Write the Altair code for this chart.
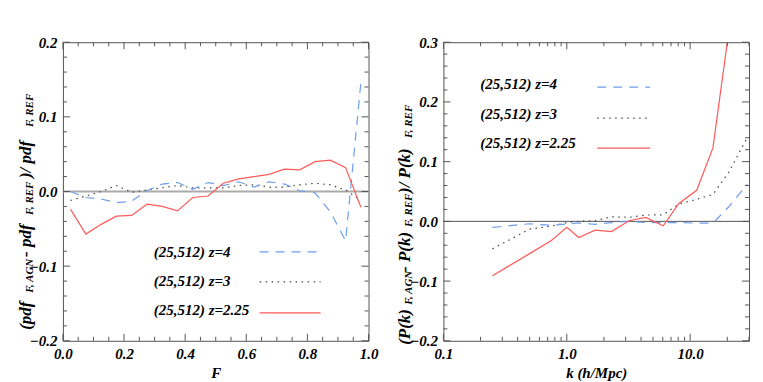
import altair as alt
import pandas as pd

# ---------------- data: left panel (flux PDF ratio) ----------------
F = [0.025, 0.075, 0.125, 0.175, 0.225, 0.275, 0.325, 0.375, 0.425, 0.475,
     0.525, 0.575, 0.625, 0.675, 0.725, 0.775, 0.825, 0.875, 0.925, 0.975]
left_z4 = [0.000, -0.008, -0.010, -0.015, -0.013, 0.001, 0.010, 0.012, 0.003, 0.012,
           0.008, 0.013, 0.006, 0.013, 0.010, 0.001, -0.002, -0.027, -0.066, 0.146]
left_z3 = [-0.012, -0.006, 0.000, 0.008, -0.001, 0.002, 0.005, 0.008, 0.005, 0.005,
           0.005, 0.008, 0.009, 0.006, 0.006, 0.009, 0.011, 0.009, 0.002, -0.012]
left_z225 = [-0.024, -0.057, -0.044, -0.033, -0.032, -0.017, -0.020, -0.026, -0.008, -0.006,
             0.011, 0.017, 0.020, 0.023, 0.030, 0.029, 0.040, 0.042, 0.032, -0.021]

# ---------------- data: right panel (flux power spectrum ratio) ----------------
k_vals = [0.25, 0.5, 0.75, 1.0, 1.25, 1.7, 2.3, 3.2, 4.35, 6.05, 8.1, 11.3, 15.3, 20.5, 29.0]
right_z4 = [-0.010, -0.004, -0.0067, -0.0044, -0.0027, -0.005, -0.002, 0.000, -0.002, -0.002,
            -0.002, -0.003, -0.003, 0.024, 0.062]
right_z3 = [-0.046, -0.013, -0.008, -0.002, 0.000, 0.001, 0.0077, 0.0067, 0.0106, 0.011,
            0.029, 0.037, 0.045, 0.082, 0.140]
k_red = [0.25, 0.5, 0.75, 1.0, 1.25, 1.7, 2.3, 3.2, 4.35, 6.05, 8.1, 11.3, 15.3, 20.5]
right_z225 = [-0.091, -0.054, -0.032, -0.010, -0.027, -0.0146, -0.017, 0.001, 0.0067, -0.0074,
              0.030, 0.052, 0.123, 0.316]

legend_labels = ["(25,512) z=4", "(25,512) z=3", "(25,512) z=2.25"]

# ticks
left_x_major = [0.0, 0.2, 0.4, 0.6, 0.8, 1.0]
left_x_minor = [0.05, 0.1, 0.15, 0.25, 0.3, 0.35, 0.45, 0.5, 0.55, 0.65, 0.7, 0.75, 0.85, 0.9, 0.95]
left_y_major = [-0.2, -0.1, 0.0, 0.1, 0.2]
left_y_minor = [-0.18, -0.16, -0.14, -0.12, -0.08, -0.06, -0.04, -0.02,
                0.02, 0.04, 0.06, 0.08, 0.12, 0.14, 0.16, 0.18]
right_x_major = [0.1, 1.0, 10.0]
right_x_minor = [0.2, 0.3, 0.4, 0.5, 0.6, 0.7, 0.8, 0.9, 2, 3, 4, 5, 6, 7, 8, 9, 20, 30]
right_y_major = [-0.2, -0.1, 0.0, 0.1, 0.2, 0.3]
right_y_minor = [-0.18, -0.16, -0.14, -0.12, -0.08, -0.06, -0.04, -0.02,
                 0.02, 0.04, 0.06, 0.08, 0.12, 0.14, 0.16, 0.18,
                 0.22, 0.24, 0.26, 0.28]

FONT = "Liberation Serif"
FRAME = "#555555"
RED = "#ff5a5a"
BLUE = "#6d9eeb"
GRAY = "#444444"
W, H = 306, 299
MAJ, MIN = 7, 4
one = pd.DataFrame({"a": [0]})


def axis_x(values, title):
    return alt.Axis(values=values, format=".1f", labelFlush=False, ticks=False,
                    domain=False, grid=False, labelFont=FONT, labelFontSize=15,
                    labelFontStyle="italic", labelFontWeight="bold", labelColor="black",
                    labelPadding=6, title=title, titleFont=FONT, titleFontSize=15,
                    titleFontStyle="italic", titleFontWeight="bold", titleColor="black",
                    titlePadding=4, labelOverlap=False)


def axis_y(values):
    return alt.Axis(values=values, format=".1f", ticks=False, domain=False, grid=False,
                    labelFont=FONT, labelFontSize=15, labelFontStyle="italic",
                    labelFontWeight="bold", labelColor="black", labelPadding=6, title="",
                    labelOverlap=False)


def txt(s, x, y, size=15, angle=0):
    return alt.Chart(one).mark_text(
        text=s, font=FONT, fontStyle="italic", fontWeight="bold", fontSize=size,
        angle=angle, align="left", baseline="middle", color="black"
    ).encode(x=alt.value(x), y=alt.value(y))


def legend_line(x1, x2, y, color, dash, width):
    kw = dict(color=color, strokeWidth=width)
    if dash:
        kw["strokeDash"] = dash
    return alt.Chart(one).mark_rule(**kw).encode(x=alt.value(x1), x2=alt.value(x2), y=alt.value(y))


def series(xs, ys, xname, xscale, yscale, color, dash, width, xaxis, yaxis):
    df = pd.DataFrame({xname: xs, "v": ys})
    kw = dict(color=color, strokeWidth=width, clip=True)
    if dash:
        kw["strokeDash"] = dash
    return alt.Chart(df).mark_line(**kw).encode(
        x=alt.X(f"{xname}:Q", scale=xscale, axis=xaxis, title=xaxis.title),
        y=alt.Y("v:Q", scale=yscale, axis=yaxis, title=""),
    )


def yticks(vals, length, yscale, yaxis):
    d = pd.DataFrame({"t": vals})
    base = alt.Chart(d).mark_rule(color=FRAME, strokeWidth=1)
    return [
        base.encode(y=alt.Y("t:Q", scale=yscale, axis=yaxis, title=""), x=alt.value(0), x2=alt.value(length)),
        base.encode(y=alt.Y("t:Q", scale=yscale, axis=yaxis, title=""), x=alt.value(W - length), x2=alt.value(W)),
    ]


def xticks(vals, length, xscale, xaxis):
    d = pd.DataFrame({"t": vals})
    base = alt.Chart(d).mark_rule(color=FRAME, strokeWidth=1)
    return [
        base.encode(x=alt.X("t:Q", scale=xscale, axis=xaxis, title=xaxis.title), y=alt.value(H), y2=alt.value(H - length)),
        base.encode(x=alt.X("t:Q", scale=xscale, axis=xaxis, title=xaxis.title), y=alt.value(0), y2=alt.value(length)),
    ]


DASH = [9, 7]
DOT = [1.5, 4.5]

# ---------------- left panel ----------------
lxs = alt.Scale(domain=[0, 1], nice=False, zero=False)
lys = alt.Scale(domain=[-0.2, 0.2], nice=False, zero=False)
lxa = axis_x(left_x_major, "F")
lya = axis_y(left_y_major)

left_layers = [
    alt.Chart(one).mark_rule(color="#aaaaaa", strokeWidth=2).encode(
        y=alt.datum(0, scale=lys, axis=lya, title="")),
    series(F, left_z3, "F", lxs, lys, GRAY, DOT, 1.2, lxa, lya),
    series(F, left_z4, "F", lxs, lys, BLUE, DASH, 1.2, lxa, lya),
    series(F, left_z225, "F", lxs, lys, RED, None, 1.2, lxa, lya),
]
left_layers += yticks(left_y_major, MAJ, lys, lya) + yticks(left_y_minor, MIN, lys, lya)
left_layers += xticks(left_x_major, MAJ, lxs, lxa) + xticks(left_x_minor, MIN, lxs, lxa)
left_layers += [
    txt(legend_labels[0], 91, 210),
    legend_line(197, 258, 210, BLUE, DASH, 1.2),
    txt(legend_labels[1], 91, 239),
    legend_line(197, 258, 240, GRAY, DOT, 1.2),
    txt(legend_labels[2], 91, 268),
    legend_line(197, 258, 271, RED, None, 1.2),
]
# rotated y title with subscripts
left_layers += [
    txt("(pdf", -37, 288, 17, 270),
    txt("F, AGN", -33, 251, 11, 270),
    txt("- pdf", -37, 215, 17, 270),
    txt("F, REF", -33, 173, 11, 270),
    txt(")/ pdf", -37, 136, 17, 270),
    txt("F, REF", -33, 85, 11, 270),
]
left = alt.layer(*left_layers).properties(width=W, height=H)

# ---------------- right panel ----------------
rxs = alt.Scale(type="log", domain=[0.1, 30], nice=False, zero=False)
rys = alt.Scale(domain=[-0.2, 0.3], nice=False, zero=False)
rxa = axis_x(right_x_major, "k (h/Mpc)")
rya = axis_y(right_y_major)

right_layers = [
    alt.Chart(one).mark_rule(color=FRAME, strokeWidth=1).encode(
        y=alt.datum(0, scale=rys, axis=rya, title="")),
    series(k_vals, right_z3, "k", rxs, rys, GRAY, DOT, 1.2, rxa, rya),
    series(k_vals, right_z4, "k", rxs, rys, BLUE, DASH, 1.2, rxa, rya),
    series(k_red, right_z225, "k", rxs, rys, RED, None, 1.2, rxa, rya),
]
right_layers += yticks(right_y_major, MAJ, rys, rya) + yticks(right_y_minor, MIN, rys, rya)
right_layers += xticks(right_x_major, MAJ, rxs, rxa) + xticks(right_x_minor, MIN, rxs, rxa)
right_layers += [
    txt(legend_labels[0], 37, 42),
    legend_line(154, 207, 45, BLUE, DASH, 1.2),
    txt(legend_labels[1], 37, 72),
    legend_line(154, 207, 76, GRAY, DOT, 1.2),
    txt(legend_labels[2], 37, 101),
    legend_line(154, 207, 106, RED, None, 1.2),
]
right_layers += [
    txt("(P(k)", -38, 303, 17, 270),
    txt("F, AGN", -34, 263, 11, 270),
    txt("- P(k)", -38, 230, 17, 270),
    txt("F, REF", -34, 185, 11, 270),
    txt(")/ P(k)", -38, 151, 17, 270),
    txt("F, REF", -34, 96, 11, 270),
]
right = alt.layer(*right_layers).properties(width=W, height=H)

chart = alt.hconcat(left, right, spacing=17).properties(
    padding={"left": 8, "top": 26, "right": 5, "bottom": 5},
    background="white",
).configure_view(stroke=FRAME, strokeWidth=1)

chart.save("out.html", embed_options={"renderer": "svg", "actions": False})
